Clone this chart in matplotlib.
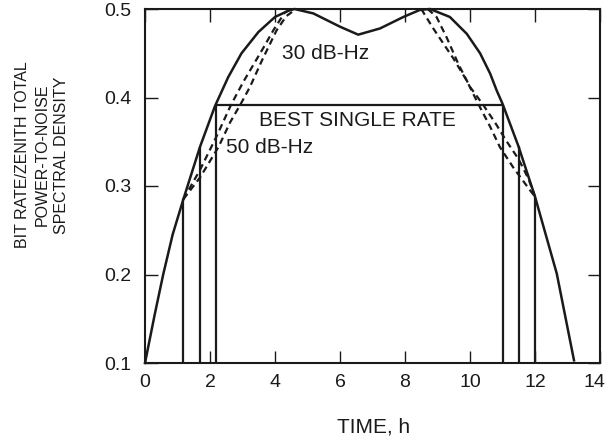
import matplotlib
matplotlib.use("Agg")
import matplotlib.pyplot as plt
import matplotlib.transforms as mtransforms
from matplotlib import font_manager

plt.rcParams["font.family"] = ["Liberation Sans", "DejaVu Sans"]

# solid curve: achievable bit rate over the pass
time_h = [0, 0.3, 0.56, 0.85, 1.18, 1.69, 2.15, 2.56, 2.97, 3.49, 4.0, 4.41, 4.6,
          5.18, 6.0, 6.56, 7.23, 7.95, 8.46, 8.77, 9.38, 9.9, 10.31, 10.62, 10.82,
          11.0, 11.49, 12.0, 12.67, 13.2]
rate = [0.1, 0.155, 0.2, 0.245, 0.285, 0.344, 0.39, 0.423, 0.45, 0.474, 0.491, 0.498, 0.5,
        0.495, 0.48, 0.471, 0.478, 0.491, 0.499, 0.5, 0.491, 0.472, 0.45, 0.427, 0.408,
        0.393, 0.345, 0.288, 0.201, 0.103]

# dashed curves (left rise / right fall)
dash_a_left_x = [1.18, 1.69, 2.2, 2.65, 3.03, 3.64, 3.95, 4.3, 4.5]
dash_a_left_y = [0.285, 0.318, 0.356, 0.392, 0.418, 0.456, 0.476, 0.496, 0.5]
dash_b_left_x = [1.18, 1.7, 2.26, 2.62, 2.95, 3.23, 3.6, 4.05, 4.35, 4.65]
dash_b_left_y = [0.285, 0.31, 0.344, 0.372, 0.393, 0.412, 0.442, 0.476, 0.492, 0.5]
dash_a_right_x = [8.5, 8.87, 9.18, 9.49, 9.9, 10.25, 10.62, 10.92, 11.33, 11.85, 12.0]
dash_a_right_y = [0.5, 0.478, 0.461, 0.444, 0.419, 0.393, 0.367, 0.344, 0.321, 0.295, 0.288]
dash_b_right_x = [8.7, 8.97, 9.28, 9.64, 10.0, 10.4, 10.8, 11.1, 11.5, 11.8, 12.0]
dash_b_right_y = [0.5, 0.491, 0.468, 0.438, 0.412, 0.392, 0.37, 0.352, 0.33, 0.308, 0.288]

# rate switch points
switch_x = [1.18, 1.69, 2.18, 11.0, 11.5, 12.0]
switch_y = [0.285, 0.344, 0.392, 0.392, 0.345, 0.288]
best_rate = 0.392
best_start, best_end = 2.18, 11.0

x_ticks = [0, 2, 4, 6, 8, 10, 12, 14]
y_ticks = [0.1, 0.2, 0.3, 0.4, 0.5]

installed = {f.name for f in font_manager.fontManager.ttflist}
if "Liberation Sans Narrow" in installed:
    ylab_family, ylab_size = ["Liberation Sans Narrow", "DejaVu Sans"], 13.5
else:
    ylab_family, ylab_size = ["Liberation Sans", "DejaVu Sans"], 11.5

ink = "#1a1a1a"
fig = plt.figure(figsize=(6.06, 4.37), dpi=100)
ax = fig.add_axes([145 / 606, 1 - 363 / 437, 455 / 606, 354 / 437])

ax.plot(time_h, rate, color=ink, lw=1.8, clip_on=False)
for xs, ys in [(dash_a_left_x, dash_a_left_y), (dash_b_left_x, dash_b_left_y),
               (dash_a_right_x, dash_a_right_y), (dash_b_right_x, dash_b_right_y)]:
    ax.plot(xs, ys, color=ink, lw=1.6, dashes=(3, 2), clip_on=False)

ax.vlines(switch_x, 0.1, switch_y, color=ink, lw=1.6)
ax.hlines(best_rate, best_start, best_end, color=ink, lw=1.6)

ax.text(4.2, 0.45, "30 dB-Hz", fontsize=15, va="center", ha="left", color=ink)
ax.text(2.5, 0.343, "50 dB-Hz", fontsize=15, va="center", ha="left", color=ink)
ax.text(3.52, 0.374, "BEST SINGLE RATE", fontsize=15, va="center", ha="left", color=ink)

ax.set_xlim(0, 14)
ax.set_ylim(0.1, 0.5)
ax.set_xticks(x_ticks)
ax.set_yticks(y_ticks)
ax.set_yticklabels([f"{v:.1f}" for v in y_ticks])
ax.tick_params(direction="in", length=9, width=1, labelsize=14,
               top=True, right=True, colors=ink)
ax.tick_params(axis="x", pad=8)
ax.tick_params(axis="y", pad=10)
for s in ax.spines.values():
    s.set_linewidth(1.5)
    s.set_color(ink)

# keep the last x label inside the figure
last = ax.get_xticklabels()[-1]
last.set_transform(last.get_transform()
                   + mtransforms.ScaledTranslation(-6 / 100, 0, fig.dpi_scale_trans))

fig.text(374 / 606, 1 - 427 / 437, "TIME, h", fontsize=15, ha="center", va="center", color=ink)
fig.text(42 / 606, 1 - 155 / 437,
         "BIT RATE/ZENITH TOTAL\nPOWER-TO-NOISE\nSPECTRAL DENSITY",
         family=ylab_family, fontsize=ylab_size, rotation=90,
         ha="center", va="center", multialignment="center", linespacing=1.35, color=ink)

fig.savefig("out.png", dpi=100)
